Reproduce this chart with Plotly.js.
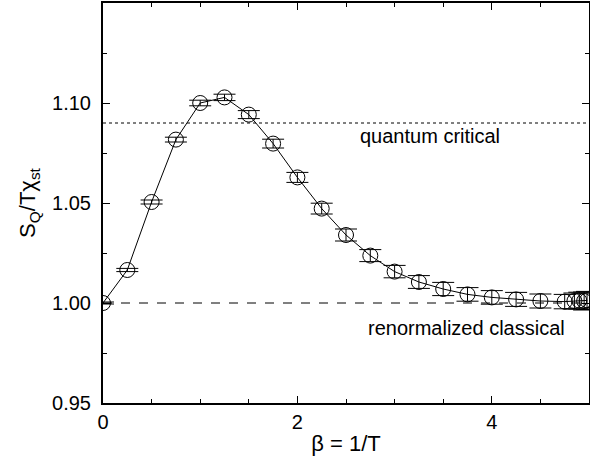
<!DOCTYPE html>
<html>
<head>
<meta charset="utf-8">
<script src="https://cdn.plot.ly/plotly-3.0.1.min.js"></script>
<style>html,body{margin:0;padding:0;background:#fff;}#chart{width:590px;height:460px;}</style>
</head>
<body>
<div id="chart"></div>
<script>
const beta = [0, 0.25, 0.5, 0.75, 1.0, 1.25, 1.5, 1.75, 2.0, 2.25, 2.5, 2.75, 3.0, 3.25, 3.5, 3.75, 4.0, 4.25, 4.5, 4.75, 4.85, 4.9, 4.95, 4.98];
const ratio = [1.000, 1.0165, 1.0505, 1.0817, 1.1000, 1.1028, 1.0942, 1.0797, 1.0628, 1.0472, 1.034, 1.0237, 1.0157, 1.0105, 1.0070, 1.0043, 1.0028, 1.0018, 1.0010, 1.0007, 1.0010, 1.0012, 1.0010, 1.0013];
const err = [0.0005, 0.0008, 0.001, 0.0012, 0.0014, 0.0016, 0.002, 0.0022, 0.0025, 0.0027, 0.003, 0.003, 0.0031, 0.0032, 0.0033, 0.0034, 0.0034, 0.0035, 0.0035, 0.0036, 0.004, 0.0042, 0.0045, 0.0045];
const quantumCritical = 1.09;
const renormClassical = 1.0;
const xRange = [0, 5];
const yRange = [0.95, 1.15];

const font = {family: 'Liberation Sans, Arial, sans-serif', color: '#000'};

const data = [{
  x: beta, y: ratio, type: 'scatter', mode: 'lines+markers',
  line: {color: '#000', width: 1},
  marker: {symbol: 'circle-open', size: 15, color: '#000', line: {width: 1, color: '#000'}},
  error_y: {type: 'data', array: err, visible: true, color: '#000', thickness: 1, width: 11},
  showlegend: false, hoverinfo: 'skip'
}];

const layout = {
  width: 590, height: 460,
  margin: {l: 103, r: 1, t: 3, b: 57},
  paper_bgcolor: '#fff', plot_bgcolor: '#fff',
  font: Object.assign({size: 20}, font),
  xaxis: {
    range: xRange, dtick: 2, tick0: 0, ticks: 'inside', ticklen: 7, tickwidth: 1, tickcolor: '#000',
    minor: {dtick: 0.5, ticks: 'inside', ticklen: 4, tickcolor: '#000', tickwidth: 1},
    showgrid: false, zeroline: false, showline: true, linecolor: '#000', linewidth: 2, mirror: 'allticks',
    tickfont: Object.assign({size: 20}, font),
    title: {text: 'β = 1/T', font: Object.assign({size: 22}, font), standoff: 4}
  },
  yaxis: {
    range: yRange, dtick: 0.05, tick0: 0.95, ticks: 'inside', ticklen: 7, tickwidth: 1, tickcolor: '#000',
    tickformat: '.2f', ticklabelstandoff: 6,
    minor: {dtick: 0.025, ticks: 'inside', ticklen: 4, tickcolor: '#000', tickwidth: 1},
    showgrid: false, zeroline: false, showline: true, linecolor: '#000', linewidth: 2, mirror: 'allticks',
    tickfont: Object.assign({size: 20}, font),
    title: {text: 'S<sub>Q</sub>/Tχ<sub>st</sub>', font: Object.assign({size: 22}, font), standoff: 10}
  },
  shapes: [
    {type: 'line', xref: 'x', yref: 'y', x0: xRange[0], x1: xRange[1], y0: quantumCritical, y1: quantumCritical, line: {color: '#000', width: 1, dash: 'dot'}, layer: 'below'},
    {type: 'line', xref: 'x', yref: 'y', x0: xRange[0], x1: xRange[1], y0: renormClassical, y1: renormClassical, line: {color: '#000', width: 1, dash: 'dash'}, layer: 'below'}
  ],
  annotations: [
    {x: 3.36, y: 1.0835, xref: 'x', yref: 'y', text: 'quantum critical', showarrow: false, font: Object.assign({size: 20}, font)},
    {x: 3.74, y: 0.9875, xref: 'x', yref: 'y', text: 'renormalized classical', showarrow: false, font: Object.assign({size: 20}, font)}
  ]
};

Plotly.newPlot('chart', data, layout, {displayModeBar: false, staticPlot: true});
</script>
</body>
</html>
